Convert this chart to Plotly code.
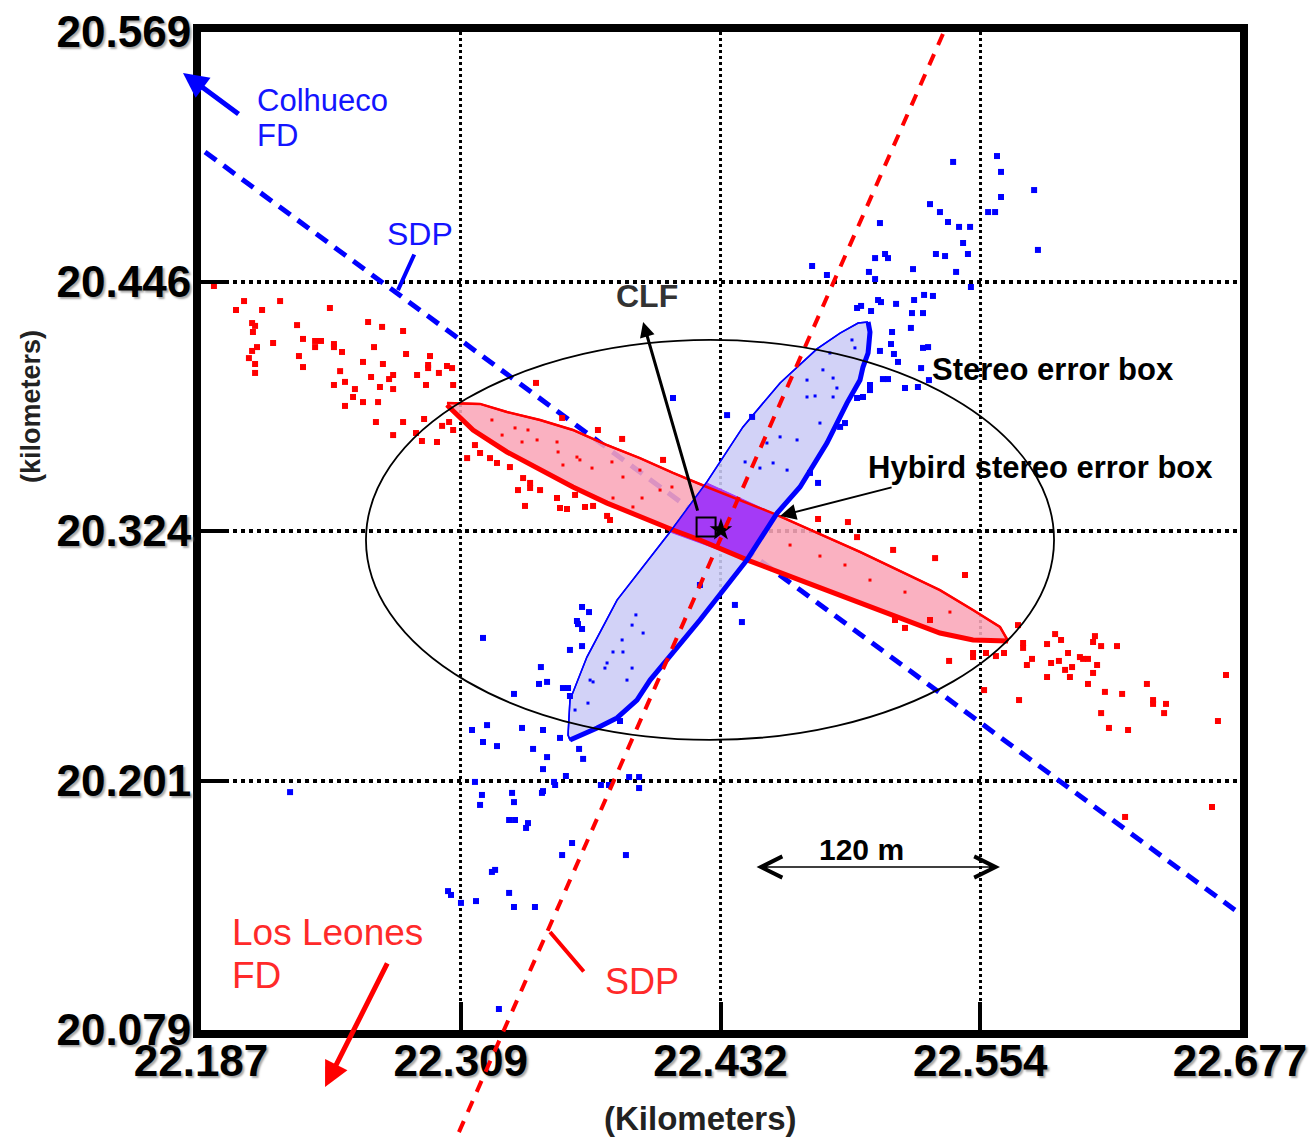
import plotly.graph_objects as go

# ---------------------------------------------------------------- axes (km)
X_RANGE = [22.187, 22.677]
Y_RANGE = [20.079, 20.569]
x_tick_vals = [22.187, 22.3095, 22.432, 22.5545, 22.677]
x_tick_text = ["22.187", "22.309", "22.432", "22.554", "22.677"]
y_tick_vals = [20.079, 20.2015, 20.324, 20.4465, 20.569]
y_tick_text = ["20.079", "20.201", "20.324", "20.446", "20.569"]

# ------------------------------------------- shower-detector-plane lines (km)
colhueco_sdp_x = [22.1889, 22.6746]
colhueco_sdp_y = [20.5101, 20.1379]
leones_sdp_x = [22.5369, 22.3068]
leones_sdp_y = [20.5680, 20.0245]

# ---------------------------------------- Los Leones monocular error band
red_top_x = [22.3030, 22.3186, 22.3313, 22.3469, 22.3624, 22.3785, 22.3940, 22.4096,
             22.4256, 22.4577, 22.4978, 22.5355, 22.5511, 22.5638, 22.5676]
red_top_y = [20.3869, 20.3864, 20.3824, 20.3785, 20.3736, 20.3662, 20.3598, 20.3525,
             20.3456, 20.3323, 20.3137, 20.2950, 20.2852, 20.2769, 20.2700]
red_bot_x = [22.5676, 22.5511, 22.5355, 22.4978, 22.4695, 22.4445, 22.4223, 22.4096,
             22.3940, 22.3785, 22.3624, 22.3469, 22.3313, 22.3153, 22.3030]
red_bot_y = [20.2700, 20.2705, 20.2739, 20.2891, 20.2999, 20.3098, 20.3196, 20.3245,
             20.3309, 20.3377, 20.3456, 20.3539, 20.3628, 20.3736, 20.3859]

# ------------------------------------------ Colhueco monocular error band
blue_right_x = [22.5016, 22.5025, 22.5016, 22.4992, 22.4978, 22.4917, 22.4822, 22.4695,
                22.4587, 22.4445, 22.4223, 22.4105, 22.3988, 22.3926, 22.3832, 22.3738, 22.3610]
blue_right_y = [20.4266, 20.4217, 20.4114, 20.4045, 20.3981, 20.3869, 20.3672, 20.3456,
                20.3328, 20.3098, 20.2803, 20.2656, 20.2508, 20.2410, 20.2322, 20.2273, 20.2214]
blue_left_x = [22.3610, 22.3601, 22.3610, 22.3690, 22.3832, 22.4082, 22.4256, 22.4426,
               22.4601, 22.4775, 22.4884, 22.4969, 22.5016]
blue_left_y = [20.2214, 20.2238, 20.2410, 20.2621, 20.2901, 20.3235, 20.3481, 20.3751,
               20.3967, 20.4134, 20.4212, 20.4261, 20.4266]

# ------------------------------------------------- hybrid stereo overlap
hybrid_x = [22.4256, 22.4577, 22.4445, 22.4082]
hybrid_y = [20.3476, 20.3323, 20.3098, 20.3235]

# ----------------------------------------------------- stereo error box
stereo_x = [22.2648, 22.5893]
stereo_y = [20.2214, 20.4178]

# ------------------------------------------------ CLF and reconstruction
clf_x, clf_y = [22.4252], [20.3260]
core_x, core_y = [22.4322], [20.3245]

# ------------------------------------ Los Leones reconstructed cores (km)
red_nw_x = [22.1931, 22.2073, 22.2243, 22.2035, 22.2158, 22.2478, 22.2111, 22.2125, 22.2115, 22.2323,
            22.2658, 22.2724, 22.2823, 22.2210, 22.2351, 22.2408, 22.2408, 22.2436, 22.2497, 22.2497,
            22.2134, 22.2111, 22.2096, 22.2332, 22.2535, 22.2686, 22.2837, 22.2950, 22.2125, 22.2351,
            22.2634, 22.2728, 22.2941, 22.2941, 22.3030, 22.3054, 22.2125, 22.2526, 22.2672, 22.2776,
            22.2757, 22.2889, 22.2992, 22.2497, 22.2549, 22.2596, 22.2714, 22.2776, 22.2931, 22.3059,
            22.2587, 22.2634, 22.2705, 22.2549, 22.2695, 22.2823, 22.2922, 22.3040, 22.3007, 22.2776,
            22.2884, 22.3059, 22.2912, 22.2983, 22.3450, 22.3162, 22.3186, 22.3125, 22.3233, 22.3266,
            22.3327, 22.3389, 22.3422, 22.3422, 22.3365, 22.3469, 22.3549, 22.3634, 22.3398, 22.3563,
            22.3596, 22.3681, 22.3719, 22.3785, 22.3799, 22.3742, 22.3856, 22.4049, 22.3573]
red_nw_y = [20.4443, 20.4369, 20.4369, 20.4325, 20.4325, 20.4335, 20.4261, 20.4247, 20.4217, 20.4251,
            20.4266, 20.4242, 20.4222, 20.4163, 20.4183, 20.4173, 20.4143, 20.4173, 20.4158, 20.4143,
            20.4143, 20.4124, 20.4089, 20.4099, 20.4119, 20.4143, 20.4109, 20.4099, 20.4060, 20.4045,
            20.4070, 20.4060, 20.4055, 20.4040, 20.4050, 20.4040, 20.4016, 20.4025, 20.3996, 20.4006,
            20.3986, 20.4006, 20.4016, 20.3957, 20.3972, 20.3937, 20.3947, 20.3937, 20.3957, 20.3957,
            20.3898, 20.3873, 20.3873, 20.3854, 20.3775, 20.3775, 20.3790, 20.3775, 20.3756, 20.3711,
            20.3721, 20.3736, 20.3682, 20.3677, 20.3967, 20.3662, 20.3623, 20.3598, 20.3598, 20.3574,
            20.3554, 20.3500, 20.3476, 20.3451, 20.3441, 20.3441, 20.3402, 20.3417, 20.3363, 20.3353,
            20.3348, 20.3358, 20.3363, 20.3314, 20.3294, 20.3736, 20.3692, 20.3589, 20.3795]
red_mid_x = [22.4780, 22.4921, 22.4964, 22.5134, 22.5332, 22.5473, 22.5143, 22.5190, 22.5308]
red_mid_y = [20.3299, 20.3284, 20.3210, 20.3147, 20.3107, 20.3024, 20.2803, 20.2764, 20.2803]
red_se_x = [22.5723, 22.5747, 22.5747, 22.5898, 22.5926, 22.5860, 22.6086, 22.6077, 22.6115, 22.6190,
            22.5959, 22.6015, 22.6030, 22.6053, 22.5916, 22.5879, 22.5789, 22.5765, 22.6096, 22.5978,
            22.5945, 22.6077, 22.5860, 22.5968, 22.5398, 22.5511, 22.5511, 22.5657, 22.5619, 22.5572,
            22.6053, 22.6331, 22.6704, 22.6133, 22.6214, 22.6360, 22.6360, 22.6421, 22.5563, 22.5728,
            22.6115, 22.6412, 22.6666, 22.6152, 22.6242, 22.6638, 22.6228]
red_se_y = [20.2778, 20.2690, 20.2666, 20.2734, 20.2705, 20.2685, 20.2724, 20.2695, 20.2675, 20.2675,
            20.2641, 20.2621, 20.2612, 20.2612, 20.2602, 20.2592, 20.2612, 20.2582, 20.2582, 20.2572,
            20.2558, 20.2543, 20.2523, 20.2523, 20.2602, 20.2641, 20.2621, 20.2641, 20.2626, 20.2641,
            20.2489, 20.2489, 20.2533, 20.2450, 20.2440, 20.2410, 20.2391, 20.2391, 20.2459, 20.2410,
            20.2346, 20.2346, 20.2307, 20.2273, 20.2263, 20.1885, 20.1836]
red_in_x = [22.3242, 22.3290, 22.3351, 22.3412, 22.3455, 22.3384, 22.3549, 22.3554, 22.3643, 22.3657,
            22.3577, 22.3714, 22.3808, 22.3860, 22.3940, 22.3950, 22.3813, 22.3907, 22.4035, 22.4091,
            22.4648, 22.4789, 22.5025, 22.5190, 22.5402, 22.4907]
red_in_y = [20.3785, 20.3711, 20.3746, 20.3736, 20.3687, 20.3677, 20.3677, 20.3628, 20.3603, 20.3589,
            20.3564, 20.3549, 20.3579, 20.3505, 20.3539, 20.3402, 20.3402, 20.3358, 20.3441, 20.3456,
            20.3171, 20.3117, 20.2999, 20.2940, 20.2842, 20.3073]

# -------------------------------------- Colhueco reconstructed cores (km)
blue_ne_x = [22.5417, 22.5624, 22.5643, 22.5799, 22.5643, 22.5308, 22.5355, 22.5582, 22.5615, 22.5072,
             22.5393, 22.5445, 22.5497, 22.5464, 22.5817, 22.5336, 22.5379, 22.5487, 22.5096, 22.5110,
             22.5049, 22.4752, 22.5228, 22.5020, 22.5431, 22.4822, 22.5049, 22.5501, 22.5280, 22.5322,
             22.5233, 22.5063, 22.5077, 22.5148, 22.4983, 22.4964, 22.5030, 22.5223, 22.5275, 22.5218,
             22.5129, 22.5124, 22.5072, 22.5275, 22.5299, 22.5138, 22.5157, 22.5266, 22.5086, 22.5110,
             22.5025, 22.5025, 22.4992, 22.4964, 22.5190, 22.5251, 22.5303,
             22.4096, 22.4351, 22.4469, 22.4884, 22.4907, 22.4742, 22.4780]
blue_ne_y = [20.5052, 20.5081, 20.5003, 20.4914, 20.4880, 20.4845, 20.4806, 20.4806, 20.4806, 20.4752,
             20.4757, 20.4733, 20.4733, 20.4654, 20.4620, 20.4600, 20.4590, 20.4600, 20.4600, 20.4580,
             20.4580, 20.4541, 20.4526, 20.4512, 20.4512, 20.4497, 20.4477, 20.4438, 20.4399, 20.4394,
             20.4374, 20.4374, 20.4364, 20.4355, 20.4345, 20.4335, 20.4320, 20.4310, 20.4310, 20.4237,
             20.4217, 20.4158, 20.4124, 20.4139, 20.4143, 20.4109, 20.4070, 20.4040, 20.3986, 20.3986,
             20.3957, 20.3932, 20.3898, 20.3893, 20.3942, 20.3947, 20.3981,
             20.3893, 20.3809, 20.3800, 20.3751, 20.3770, 20.3525, 20.3476]
blue_sw_x = [22.3667, 22.3700, 22.3643, 22.3648, 22.3667, 22.3200, 22.3667, 22.3610, 22.3473, 22.3464,
             22.3502, 22.3346, 22.3577, 22.3601, 22.3610, 22.3148, 22.3219, 22.3384, 22.3483, 22.3563,
             22.3200, 22.3266, 22.3436, 22.3653, 22.3672, 22.3502, 22.3483, 22.3591, 22.3535, 22.3540,
             22.3756, 22.3794, 22.3889, 22.3936, 22.3936, 22.3162, 22.3195, 22.3186, 22.3337, 22.3346,
             22.3478, 22.3483, 22.3323, 22.3351, 22.3412, 22.3403, 22.3846, 22.3620, 22.3573, 22.3874,
             22.3242, 22.3257, 22.3035, 22.3049, 22.3096, 22.3167, 22.3323, 22.3346, 22.3445, 22.3275,
             22.2290, 22.4388, 22.4421, 22.4223]
blue_sw_y = [20.2867, 20.2842, 20.2798, 20.2783, 20.2759, 20.2715, 20.2675, 20.2656, 20.2572, 20.2489,
             20.2499, 20.2440, 20.2469, 20.2469, 20.2430, 20.2263, 20.2287, 20.2273, 20.2263, 20.2224,
             20.2204, 20.2184, 20.2170, 20.2170, 20.2121, 20.2130, 20.2071, 20.2037, 20.2008, 20.1993,
             20.1993, 20.1993, 20.2032, 20.2032, 20.1978, 20.2008, 20.1944, 20.1895, 20.1954, 20.1909,
             20.1954, 20.1963, 20.1821, 20.1821, 20.1806, 20.1782, 20.2307, 20.1708, 20.1649, 20.1649,
             20.1566, 20.1576, 20.1472, 20.1453, 20.1414, 20.1423, 20.1463, 20.1394, 20.1394, 20.0893,
             20.1958, 20.2877, 20.2793, 20.2975]
blue_in_x = [22.4940, 22.4954, 22.4836, 22.4803, 22.4851, 22.4728, 22.4766, 22.4851, 22.4869, 22.4728,
             22.3903, 22.3921, 22.3955, 22.3856, 22.3813, 22.3860, 22.3785, 22.3775, 22.3903, 22.3879,
             22.3719, 22.3705, 22.3695, 22.3634, 22.4789, 22.4601, 22.4681, 22.4539, 22.4506, 22.4436,
             22.4568, 22.4634]
blue_in_y = [20.4178, 20.4139, 20.4114, 20.4031, 20.3991, 20.3981, 20.3903, 20.3898, 20.3942, 20.3898,
             20.2778, 20.2828, 20.2739, 20.2705, 20.2646, 20.2646, 20.2592, 20.2567, 20.2567, 20.2508,
             20.2499, 20.2508, 20.2395, 20.2361, 20.3770, 20.3702, 20.3687, 20.3672, 20.3549, 20.3579,
             20.3574, 20.3539]

# ------------------------------------------------------------- styling
RED = "#ff0000"
BLUE = "#0000ff"
FONT = "Liberation Sans, Arial, sans-serif"
W, H = 1314, 1141
DOM_X = [201 / W, 1240 / W]
DOM_Y = [1 - 1030 / H, 1 - 32 / H]


def stretch(rng, dom):
    """Range of a full-figure axis sharing the scale of rng on domain dom."""
    span = (rng[1] - rng[0]) / (dom[1] - dom[0])
    return [rng[0] - dom[0] * span, rng[0] + (1 - dom[0]) * span]


fig = go.Figure()

# Colhueco shower-detector plane (dashed blue)
fig.add_trace(go.Scatter(x=colhueco_sdp_x, y=colhueco_sdp_y, mode="lines",
                         line=dict(color=BLUE, width=5, dash="14px,9px")))

# error-band fills
fig.add_trace(go.Scatter(x=red_top_x + red_bot_x[1:], y=red_top_y + red_bot_y[1:],
                         mode="lines", fill="toself", fillcolor="rgba(249,166,184,0.88)",
                         line=dict(color=RED, width=2)))
fig.add_trace(go.Scatter(x=blue_right_x + blue_left_x[1:], y=blue_right_y + blue_left_y[1:],
                         mode="lines", fill="toself", fillcolor="rgba(204,204,246,0.88)",
                         line=dict(color=BLUE, width=1.5)))
fig.add_trace(go.Scatter(x=hybrid_x + hybrid_x[:1], y=hybrid_y + hybrid_y[:1],
                         mode="lines", fill="toself", fillcolor="rgb(164,58,246)",
                         line=dict(color="rgb(164,58,246)", width=1)))
# heavy outer edges of the bands
fig.add_trace(go.Scatter(x=red_top_x, y=red_top_y, mode="lines", line=dict(color=RED, width=2.5)))
fig.add_trace(go.Scatter(x=red_bot_x, y=red_bot_y, mode="lines", line=dict(color=RED, width=5)))
fig.add_trace(go.Scatter(x=blue_left_x, y=blue_left_y, mode="lines", line=dict(color=BLUE, width=1.5)))
fig.add_trace(go.Scatter(x=blue_right_x, y=blue_right_y, mode="lines", line=dict(color=BLUE, width=5)))

# reconstructed cores
for xs, ys, col, sz in [(red_nw_x, red_nw_y, RED, 6), (red_mid_x, red_mid_y, RED, 6),
                        (red_se_x, red_se_y, RED, 6),
                        (blue_ne_x, blue_ne_y, BLUE, 6), (blue_sw_x, blue_sw_y, BLUE, 6),
                        (red_in_x, red_in_y, RED, 3), (blue_in_x, blue_in_y, BLUE, 3)]:
    fig.add_trace(go.Scatter(x=xs, y=ys, mode="markers",
                             marker=dict(symbol="square", size=sz, color=col, line=dict(width=0))))

# CLF position and reconstructed core
fig.add_trace(go.Scatter(x=clf_x, y=clf_y, mode="markers",
                         marker=dict(symbol="square-open", size=19, color="black", line=dict(width=2))))
fig.add_trace(go.Scatter(x=core_x, y=core_y, mode="markers",
                         marker=dict(symbol="star", size=17, color="black")))

# Los Leones shower-detector plane runs past the frame, so it lives on a
# full-figure axis pair with the same scale
fig.add_trace(go.Scatter(x=leones_sdp_x, y=leones_sdp_y, mode="lines", xaxis="x2", yaxis="y2",
                         line=dict(color=RED, width=4, dash="12px,10px")))

# stereo error box
fig.add_shape(type="circle", xref="x", yref="y", x0=stereo_x[0], x1=stereo_x[1],
              y0=stereo_y[0], y1=stereo_y[1], line=dict(color="black", width=1.8), layer="above")

ann = []


def label(x, y, text, size, color, bold=False, xanchor="left"):
    ann.append(dict(x=x, y=y, xref="x", yref="y", text=text, showarrow=False,
                    xanchor=xanchor, yanchor="middle",
                    font=dict(family=FONT, size=size, color=color,
                              weight="bold" if bold else "normal")))


def pointer(hx, hy, tx, ty, color, width, head=2, size=1.0, side="end"):
    ann.append(dict(x=hx, y=hy, ax=tx, ay=ty, xref="x", yref="y", axref="x", ayref="y",
                    text="", showarrow=True, arrowcolor=color, arrowwidth=width,
                    arrowhead=head, arrowsize=size, arrowside=side, standoff=0, startstandoff=0))


label(22.2125, 20.5356, "Colhueco", 31, "#1414ff")
label(22.2125, 20.5184, "FD", 31, "#1414ff")
pointer(22.1785, 20.5489, 22.2054, 20.5282, BLUE, 5, head=2, size=1.0)
label(22.2738, 20.4698, "SDP", 32, "#1414ff")
pointer(22.2799, 20.4423, 22.2879, 20.4605, BLUE, 4, head=0)

label(22.2007, 20.1271, "Los Leones", 37, "#ff2a2a")
label(22.2007, 20.1060, "FD", 37, "#ff2a2a")
pointer(22.2455, 20.0510, 22.2752, 20.1124, RED, 5, head=2, size=1.0)
label(22.3766, 20.1026, "SDP", 36, "#ff2a2a")
pointer(22.3516, 20.1271, 22.3681, 20.1070, RED, 4, head=0)

label(22.3973, 20.4394, "CLF", 32, "#333333", bold=True, xanchor="center")
pointer(22.3955, 20.4266, 22.4214, 20.3333, "black", 3, head=2, size=1.0)

label(22.5308, 20.4031, "Stereo error box", 31, "black", bold=True)
label(22.5006, 20.3554, "Hybird stereo error box", 31, "black", bold=True)
pointer(22.4601, 20.3314, 22.5134, 20.3456, "black", 2, head=2, size=1.6)

label(22.4987, 20.1674, "120 m", 30, "black", bold=True, xanchor="center")
pointer(22.5638, 20.1590, 22.4483, 20.1590, "black", 1.6, head=5, size=2.6, side="end+start")

# axis titles
ann.append(dict(x=700 / W, y=1 - 1118 / H, xref="paper", yref="paper", text="(Kilometers)",
                showarrow=False, xanchor="center", yanchor="middle",
                font=dict(family=FONT, size=33, color="#222222", weight="bold")))
ann.append(dict(x=31 / W, y=1 - 407 / H, xref="paper", yref="paper", text="(kilometers)",
                showarrow=False, xanchor="center", yanchor="middle", textangle=-90,
                font=dict(family=FONT, size=27, color="#222222", weight="bold")))

tick_font = dict(family=FONT, size=44, color="black", weight="bold",
                 shadow="2px 2px 2px #a8a8a8")
axis_common = dict(showline=True, linewidth=8, linecolor="black", mirror=True,
                   ticks="inside", ticklen=28, tickwidth=4, tickcolor="black",
                   zeroline=False, showgrid=True, gridcolor="black", tickfont=tick_font,
                   fixedrange=True)

fig.update_layout(
    width=W, height=H, showlegend=False,
    paper_bgcolor="white", plot_bgcolor="rgba(0,0,0,0)",
    margin=dict(l=0, r=0, t=0, b=0, autoexpand=False),
    xaxis=dict(domain=DOM_X, range=X_RANGE, tickvals=x_tick_vals, ticktext=x_tick_text,
               gridwidth=3, griddash="3px,3px", anchor="y", ticklabelstandoff=-15,
               **axis_common),
    yaxis=dict(domain=DOM_Y, range=Y_RANGE, tickvals=y_tick_vals, ticktext=y_tick_text,
               gridwidth=4, griddash="4px,4px", anchor="x", ticklabelstandoff=-7,
               **axis_common),
    xaxis2=dict(domain=[0, 1], range=stretch(X_RANGE, DOM_X), visible=False,
                anchor="y2", fixedrange=True),
    yaxis2=dict(domain=[0, 1], range=stretch(Y_RANGE, DOM_Y), visible=False,
                anchor="x2", fixedrange=True),
    annotations=ann,
    hovermode=False,
)

fig.write_html("out.html")
